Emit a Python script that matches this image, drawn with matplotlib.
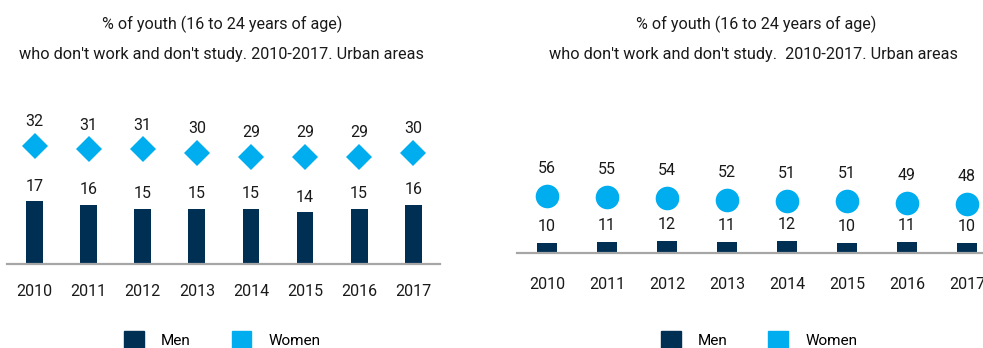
import matplotlib as mpl
mpl.use('Agg')
import matplotlib.pyplot as plt
from matplotlib.patches import Patch
import numpy as np

plt.rcParams['font.family'] = ['Roboto', 'DejaVu Sans']

years = ['2010', '2011', '2012', '2013', '2014', '2015', '2016', '2017']

# left panel
men_left = [17, 16, 15, 15, 15, 14, 15, 16]
women_left = [32, 31, 31, 30, 29, 29, 29, 30]

# right panel
men_right = [10, 11, 12, 11, 12, 10, 11, 10]
women_right = [56, 55, 54, 52, 51, 51, 49, 48]

title_1 = '% of youth (16 to 24 years of age)'
title_left = "who don't work and don't study. 2010-2017. Urban areas"
title_right = "who don't work and don't study.  2010-2017. Urban areas"

navy = '#002f54'
cyan = '#00aeef'
grey = '#a6a6a6'
W, H = 983, 348


def px_box(x0, x1, y_base, y_top):
    return [x0 / W, 1 - y_base / H, (x1 - x0) / W, (y_base - y_top) / H]


def draw_panel(ax, men, women, marker, msize, bar_w, ylim, off_w, off_m, tick_pad):
    x = np.arange(len(years))
    ax.bar(x, men, width=bar_w, color=navy, zorder=2)
    ax.plot(x, women, linestyle='none', marker=marker, markersize=msize,
            color=cyan, markeredgewidth=0, clip_on=False, zorder=3)
    for i in range(len(years)):
        ax.annotate(str(men[i]), (x[i], men[i]), xytext=(0, off_m),
                    textcoords='offset points', ha='center', va='center',
                    fontsize=11.5, color='#1a1a1a', annotation_clip=False)
        ax.annotate(str(women[i]), (x[i], women[i]), xytext=(0, off_w),
                    textcoords='offset points', ha='center', va='center',
                    fontsize=11.5, color='#1a1a1a', annotation_clip=False)
    ax.set_xlim(-0.5, 7.5)
    ax.set_ylim(0, ylim)
    ax.set_xticks(x)
    ax.set_xticklabels(years, fontsize=11.5, color='#1a1a1a')
    ax.tick_params(axis='x', length=0, pad=tick_pad)
    ax.set_yticks([])
    for s in ['top', 'right', 'left']:
        ax.spines[s].set_visible(False)
    ax.spines['bottom'].set_color(grey)
    ax.spines['bottom'].set_linewidth(1.6)
    ax.patch.set_alpha(0)


fig = plt.figure(figsize=(9.83, 3.48), dpi=100)

# left: 3.7 px per unit, baseline at 264 px
ax1 = fig.add_axes(px_box(7.5, 440.3, 264, 264 - 3.7 * 40))
draw_panel(ax1, men_left, women_left, 'D', 13.5, 0.31, 40, 17.3, 10.8, 14.5)

# right: ~1.01 px per unit, baseline at 252.7 px
ax2 = fig.add_axes(px_box(517, 997, 252.7, 252.7 - 1.01 * 80))
draw_panel(ax2, men_right, women_right, 'o', 17, 0.32, 80, 20.2, 11.5, 17.6)

fig.text(221.7 / W, 1 - 24 / H, title_1, ha='center', va='center', fontsize=11.6, color='#1a1a1a')
fig.text(221.3 / W, 1 - 55 / H, title_left, ha='center', va='center', fontsize=11.7, color='#1a1a1a')
fig.text(755.8 / W, 1 - 24 / H, title_1, ha='center', va='center', fontsize=11.6, color='#1a1a1a')
fig.text(753.3 / W, 1 - 55 / H, title_right, ha='center', va='center', fontsize=11.7, color='#1a1a1a')

handles = [Patch(color=navy, label='Men'), Patch(color=cyan, label='Women')]
for cx in [222, 759]:
    fig.legend(handles=handles, loc='center', bbox_to_anchor=(cx / W, 1 - 339.5 / H),
               ncol=2, frameon=False, fontsize=11, handlelength=1.3,
               handleheight=1.25, handletextpad=1.1, columnspacing=2.7,
               borderpad=0, borderaxespad=0)

fig.savefig('out.png', dpi=100)
